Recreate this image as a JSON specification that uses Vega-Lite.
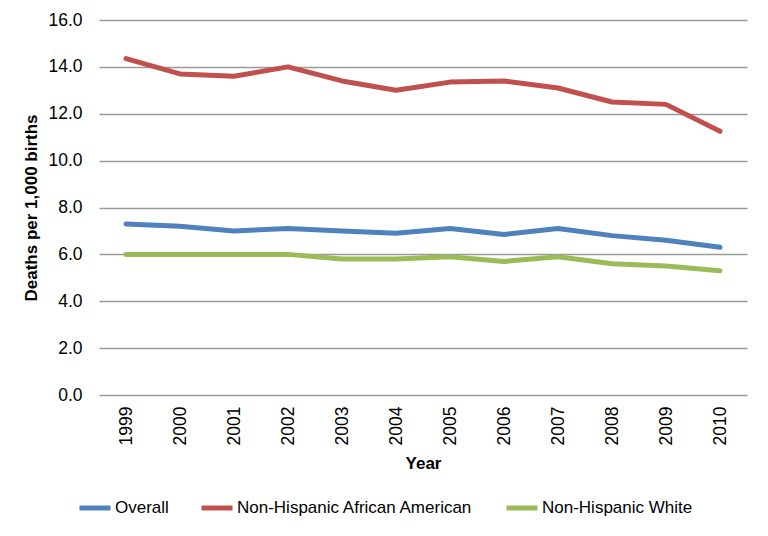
{
  "$schema": "https://vega.github.io/schema/vega-lite/v6.json",
  "width": 648,
  "height": 375,
  "autosize": {"type": "none"},
  "padding": {"left": 99, "top": 20, "right": 21, "bottom": 141},
  "background": "white",
  "config": {
    "font": "Liberation Sans",
    "view": {"stroke": null},
    "axis": {"labelFont": "Liberation Sans", "titleFont": "Liberation Sans", "labelColor": "#000", "titleColor": "#000"},
    "legend": {"labelFont": "Liberation Sans"}
  },
  "data": {
    "values": [
      {"year": "1999", "series": "Overall", "v": 7.3},
      {"year": "2000", "series": "Overall", "v": 7.2},
      {"year": "2001", "series": "Overall", "v": 7.0},
      {"year": "2002", "series": "Overall", "v": 7.1},
      {"year": "2003", "series": "Overall", "v": 7.0},
      {"year": "2004", "series": "Overall", "v": 6.9},
      {"year": "2005", "series": "Overall", "v": 7.1},
      {"year": "2006", "series": "Overall", "v": 6.85},
      {"year": "2007", "series": "Overall", "v": 7.1},
      {"year": "2008", "series": "Overall", "v": 6.8},
      {"year": "2009", "series": "Overall", "v": 6.6},
      {"year": "2010", "series": "Overall", "v": 6.3},
      {"year": "1999", "series": "Non-Hispanic African American", "v": 14.35},
      {"year": "2000", "series": "Non-Hispanic African American", "v": 13.7},
      {"year": "2001", "series": "Non-Hispanic African American", "v": 13.6},
      {"year": "2002", "series": "Non-Hispanic African American", "v": 14.0},
      {"year": "2003", "series": "Non-Hispanic African American", "v": 13.4},
      {"year": "2004", "series": "Non-Hispanic African American", "v": 13.0},
      {"year": "2005", "series": "Non-Hispanic African American", "v": 13.35},
      {"year": "2006", "series": "Non-Hispanic African American", "v": 13.4},
      {"year": "2007", "series": "Non-Hispanic African American", "v": 13.1},
      {"year": "2008", "series": "Non-Hispanic African American", "v": 12.5},
      {"year": "2009", "series": "Non-Hispanic African American", "v": 12.4},
      {"year": "2010", "series": "Non-Hispanic African American", "v": 11.25},
      {"year": "1999", "series": "Non-Hispanic White", "v": 6.0},
      {"year": "2000", "series": "Non-Hispanic White", "v": 6.0},
      {"year": "2001", "series": "Non-Hispanic White", "v": 6.0},
      {"year": "2002", "series": "Non-Hispanic White", "v": 6.0},
      {"year": "2003", "series": "Non-Hispanic White", "v": 5.8},
      {"year": "2004", "series": "Non-Hispanic White", "v": 5.8},
      {"year": "2005", "series": "Non-Hispanic White", "v": 5.9},
      {"year": "2006", "series": "Non-Hispanic White", "v": 5.7},
      {"year": "2007", "series": "Non-Hispanic White", "v": 5.9},
      {"year": "2008", "series": "Non-Hispanic White", "v": 5.6},
      {"year": "2009", "series": "Non-Hispanic White", "v": 5.5},
      {"year": "2010", "series": "Non-Hispanic White", "v": 5.3}
    ]
  },
  "mark": {"type": "line", "strokeWidth": 5, "strokeCap": "round", "strokeJoin": "round"},
  "encoding": {
    "x": {
      "field": "year", "type": "ordinal", "title": "Year",
      "scale": {"paddingInner": 0, "paddingOuter": 0.5},
      "axis": {"labelAngle": -90, "labelFontSize": 17.5, "labelPadding": 11, "ticks": false, "domain": false, "grid": false,
               "titleFontSize": 17, "titleFontWeight": "bold", "titlePadding": 11, "labelBaseline": "middle", "labelAlign": "right"}
    },
    "y": {
      "field": "v", "type": "quantitative", "title": "Deaths per 1,000 births",
      "scale": {"domain": [0, 16], "nice": false},
      "axis": {"values": [0, 2, 4, 6, 8, 10, 12, 14, 16], "format": ".1f", "labelFontSize": 17.5, "labelPadding": 17, "ticks": false, "domain": false,
               "grid": true, "gridColor": "#9a9a9a", "gridWidth": 1.4, "titleFontSize": 17, "titleFontWeight": "bold", "titlePadding": 7}
    },
    "color": {
      "field": "series", "type": "nominal", "title": null,
      "sort": ["Overall", "Non-Hispanic African American", "Non-Hispanic White"],
      "scale": {"domain": ["Overall", "Non-Hispanic African American", "Non-Hispanic White"], "range": ["#4F81BD", "#C0504D", "#9BBB59"]},
      "legend": {"orient": "none", "legendX": -22, "legendY": 470, "direction": "horizontal", "symbolType": "stroke", "symbolSize": 961,
                 "symbolStrokeWidth": 5, "labelFontSize": 17, "labelLimit": 0, "columnPadding": 22, "labelOffset": 2, "labelColor": "#000"}
    }
  }
}
